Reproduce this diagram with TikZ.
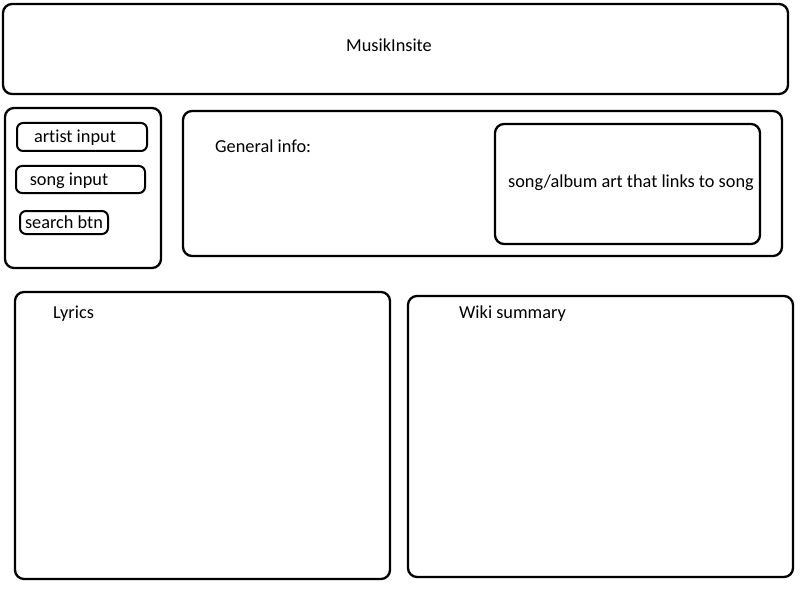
\documentclass[tikz,border=0pt]{standalone}
\usepackage{fontspec}
\setmainfont[Ligatures={NoCommon}]{Carlito}
\begin{document}
\begin{tikzpicture}[x=1pt,y=-1pt,
  box/.style={draw=black,line width=2.3pt,rounded corners=9pt},
  small/.style={draw=black,line width=2pt,rounded corners=6pt},
  lbl/.style={font=\fontsize{18.3}{21}\selectfont,inner sep=0pt}]
\useasboundingbox[fill=white] (0,0) rectangle (806,591);
\draw[box] (3,4) rectangle (788,94);
\node[lbl] (title) at (389,45) {MusikInsite};
\draw[box] (5,108) rectangle (161,268);
\draw[small] (17,123) rectangle (147,151);
\node[lbl] (artist) at (75,138) {artist input};
\draw[small] (16,166) rectangle (145,193);
\node[lbl] (song) at (69,181) {song input};
\draw[small] (20,211) rectangle (108,234);
\node[lbl] (search) at (64,222) {search btn};
\draw[box] (183,111) rectangle (782,256);
\node[lbl,anchor=west] (general) at (215,146) {General info:};
\draw[box] (495,124) rectangle (760,244);
\node[lbl] (art) at (631,183) {song/album art that links to song};
\draw[box] (15,292) rectangle (390,579);
\node[lbl,anchor=west] (lyrics) at (53,314) {Lyrics};
\draw[box] (408,296) rectangle (793,577);
\node[lbl,anchor=west] (wiki) at (459,314) {Wiki summary};
\end{tikzpicture}
\end{document}
